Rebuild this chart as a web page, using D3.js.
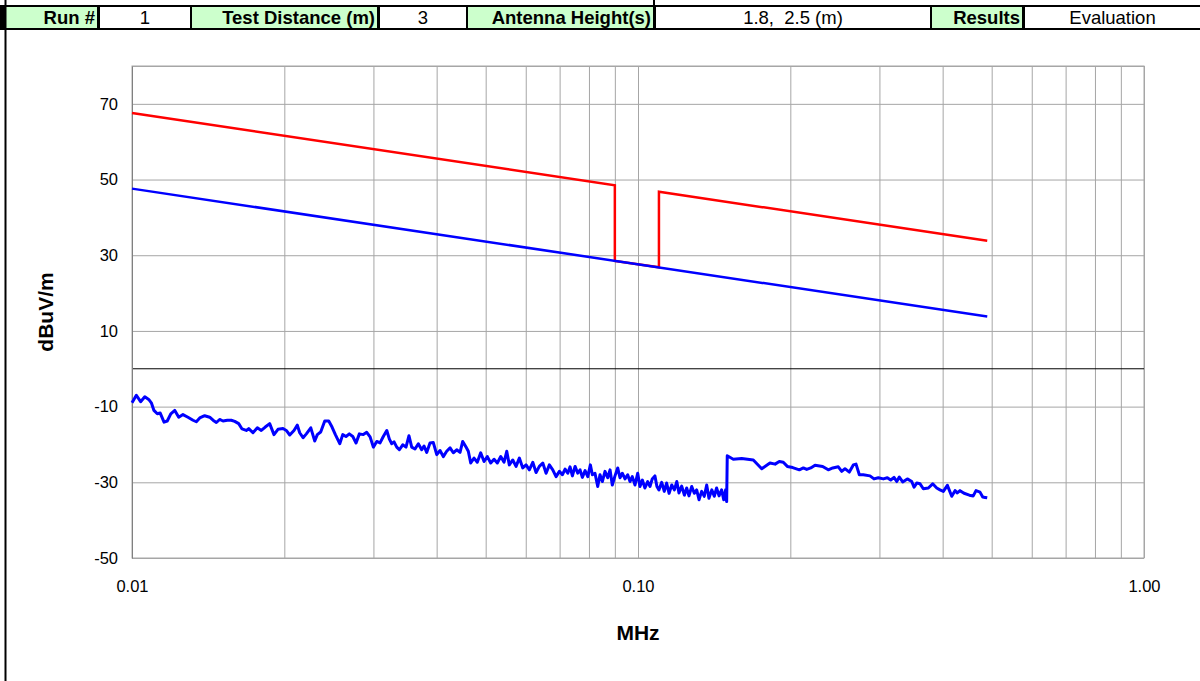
<!DOCTYPE html>
<html>
<head>
<meta charset="utf-8">
<script src="https://cdn.jsdelivr.net/npm/d3@7"></script>
<style>
  html, body { margin: 0; padding: 0; background: #fff; }
  svg { display: block; font-family: Arial, "Liberation Sans", sans-serif; }
  text { white-space: pre; }
</style>
</head>
<body>
<svg id="chart" width="1200" height="681"></svg>
<script>
// Header row of the test sheet
const headerLabels = ["Run #", "Test Distance (m)", "Antenna Height(s)", "Results"];
const headerValues = ["1", "3", "1.8,  2.5 (m)", "Evaluation"];
const headerLabelEdges = [6, 192, 468, 932];
const headerValueEdges = [100, 380, 656, 1025];

// Axis ticks
const xTickValues = [0.01, 0.1, 1];
const xTickLabels = ["0.01", "0.10", "1.00"];
const xGridValues = [0.01, 0.02, 0.03, 0.04, 0.05, 0.06, 0.07, 0.08, 0.09,
                     0.1, 0.2, 0.3, 0.4, 0.5, 0.6, 0.7, 0.8, 0.9, 1];
const yTickValues = [-50, -30, -10, 10, 30, 50, 70];

// Limit lines (dBuV/m)
const avgLimitFreq = [0.01, 0.49];
const avgLimitLevel = [47.6, 13.8];
const peakLimitFreq = [0.01, 0.09, 0.09, 0.11, 0.11, 0.49];
const peakLimitLevel = [67.6, 48.5, 28.5, 26.8, 46.8, 33.8];

// Measured emission scan (MHz, dBuV/m)
const scanFreq = [
  0.0100, 0.01020, 0.01040, 0.01060, 0.01079, 0.01092, 0.01105, 0.01122, 0.01137, 0.01157,
  0.01174, 0.01193, 0.01215, 0.01237, 0.01261, 0.01290, 0.01320, 0.01340, 0.01361, 0.01392,
  0.01424, 0.01446, 0.01468, 0.01490, 0.01513, 0.01543, 0.01571, 0.01596, 0.01625, 0.01650,
  0.01682, 0.01701, 0.01734, 0.01769, 0.01801, 0.01834, 0.01871, 0.01908, 0.01943, 0.01988,
  0.02018, 0.02050, 0.02090, 0.02122, 0.02145, 0.02178, 0.02211, 0.02256, 0.02297, 0.02324,
  0.02360, 0.02404, 0.02448, 0.02485, 0.02523, 0.02574, 0.02609, 0.02648, 0.02688, 0.02731,
  0.02772, 0.02814, 0.02865, 0.02910, 0.02955, 0.02999, 0.03046, 0.03092, 0.03138, 0.03188,
  0.03226, 0.03261, 0.03295, 0.03336, 0.03376, 0.03428, 0.03479, 0.03527, 0.03571, 0.03625,
  0.03680, 0.03737, 0.03777, 0.03823, 0.03881, 0.03940, 0.04002, 0.04062, 0.04123, 0.04187,
  0.04252, 0.04315, 0.04382, 0.04449, 0.04504, 0.04572, 0.04620, 0.04671, 0.04742, 0.04813,
  0.04888, 0.04963, 0.05038, 0.05116, 0.05194, 0.05272, 0.05355, 0.05436, 0.05503, 0.05568,
  0.05656, 0.05741, 0.05828, 0.05919, 0.06009, 0.06100, 0.06195, 0.06289, 0.06383, 0.06484,
  0.06582, 0.06681, 0.06785, 0.06888, 0.06993, 0.07089, 0.07176, 0.07265, 0.07341, 0.07419,
  0.07510, 0.07602, 0.07683, 0.07763, 0.07860, 0.07957, 0.08051, 0.08125, 0.08222, 0.08325,
  0.08412, 0.08502, 0.08606, 0.08712, 0.08805, 0.08896, 0.09006, 0.09118, 0.09213, 0.09311,
  0.09425, 0.09541, 0.09643, 0.09743, 0.09865, 0.09986, 0.1009, 0.1020, 0.1032, 0.1045,
  0.1056, 0.1067, 0.1080, 0.1090, 0.1100, 0.1114, 0.1127, 0.1139, 0.1152, 0.1166,
  0.1180, 0.1193, 0.1205, 0.1220, 0.1235, 0.1248, 0.1261, 0.1277, 0.1292, 0.1306,
  0.1320, 0.1336, 0.1352, 0.1367, 0.1381, 0.1399, 0.1415, 0.1430, 0.1446, 0.1463,
  0.1477, 0.1490, 0.1497, 0.1501, 0.1543, 0.1603, 0.1690, 0.1756, 0.1823, 0.1866,
  0.1902, 0.1937, 0.1973, 0.2022, 0.2084, 0.2122, 0.2155, 0.2195, 0.2238, 0.2317,
  0.2377, 0.2426, 0.2488, 0.2527, 0.2565, 0.2616, 0.2664, 0.2697, 0.2738, 0.2788,
  0.2874, 0.2927, 0.2985, 0.3054, 0.3110, 0.3158, 0.3206, 0.3246, 0.3284, 0.3335,
  0.3406, 0.3475, 0.3512, 0.3555, 0.3609, 0.3663, 0.3748, 0.3823, 0.3894, 0.3952,
  0.4013, 0.4087, 0.4169, 0.4232, 0.4276, 0.4329, 0.4409, 0.4517, 0.4598, 0.4656,
  0.4741, 0.4800, 0.4850, 0.4900
];
const scanLevel = [
  -9.0, -7.0, -8.7, -7.4, -8.1, -9.0, -11.0, -11.9, -11.7, -14.1,
  -13.8, -11.9, -11.0, -12.8, -12.1, -12.8, -13.6, -14.0, -13.0, -12.4,
  -12.8, -13.6, -14.2, -13.4, -13.8, -13.6, -13.6, -13.9, -14.5, -15.9,
  -16.3, -15.8, -16.9, -15.6, -16.3, -15.4, -14.5, -17.4, -16.0, -15.8,
  -16.3, -17.5, -16.3, -14.9, -16.9, -18.2, -17.2, -15.6, -19.1, -17.4,
  -16.7, -13.8, -13.8, -15.4, -17.4, -19.8, -17.4, -17.9, -17.2, -17.9,
  -19.6, -17.2, -17.4, -16.8, -18.0, -20.7, -19.2, -19.6, -17.9, -16.3,
  -18.6, -19.8, -19.3, -20.7, -21.4, -20.1, -20.7, -17.7, -20.7, -21.2,
  -19.8, -21.4, -20.4, -22.1, -19.6, -19.5, -22.7, -21.6, -23.2, -21.8,
  -20.9, -22.2, -21.4, -22.1, -19.2, -20.7, -21.8, -24.9, -23.6, -24.7,
  -22.2, -24.5, -23.2, -24.9, -23.9, -24.9, -23.2, -24.7, -21.8, -25.4,
  -24.1, -25.8, -23.6, -26.2, -25.4, -26.7, -24.7, -27.4, -25.8, -24.9,
  -27.6, -25.4, -26.7, -28.5, -27.1, -28.0, -26.5, -27.6, -25.9, -28.3,
  -25.8, -27.6, -26.7, -28.7, -26.9, -28.5, -25.4, -28.0, -27.6, -31.1,
  -28.0, -29.8, -27.1, -28.8, -26.7, -30.7, -28.3, -26.2, -28.8, -27.6,
  -29.1, -28.0, -29.8, -28.5, -30.7, -27.6, -31.1, -29.4, -31.5, -29.8,
  -31.1, -29.1, -28.3, -31.1, -32.0, -30.0, -32.4, -30.2, -32.9, -30.7,
  -32.0, -29.8, -32.8, -31.0, -33.4, -31.5, -33.6, -31.1, -32.9, -32.0,
  -34.6, -32.4, -33.7, -30.7, -34.2, -32.0, -33.7, -31.5, -33.6, -32.0,
  -34.6, -32.0, -35.1, -23.0, -23.9, -23.7, -24.1, -26.4, -24.9, -25.2,
  -24.5, -24.7, -25.8, -26.1, -26.7, -26.2, -26.6, -26.2, -25.5, -25.8,
  -26.7, -26.2, -25.9, -27.1, -26.4, -27.3, -25.4, -25.2, -28.0, -28.0,
  -28.3, -29.1, -28.8, -29.1, -28.8, -29.4, -28.7, -29.8, -28.6, -29.9,
  -29.1, -29.8, -31.3, -30.2, -30.4, -31.7, -31.5, -30.4, -31.5, -32.0,
  -32.4, -30.8, -33.7, -32.2, -32.8, -32.2, -32.9, -33.4, -33.6, -32.2,
  -32.6, -33.9, -34.0, -34.1
];

(function drawChart() {
  const svg = d3.select("#chart");
  const W = 1200, H = 681;
  const FONT = "Arial, 'Liberation Sans', sans-serif";

  // ---- Header table ----
  const header = svg.append("g");
  header.append("rect").attr("x", 0).attr("y", 5).attr("width", W).attr("height", 25).attr("fill", "#000");
  headerLabels.forEach((lab, i) => {
    const x0 = headerLabelEdges[i], x1 = headerValueEdges[i] - 3;
    header.append("rect").attr("x", x0).attr("y", 7).attr("width", x1 - x0).attr("height", 21).attr("fill", "#ccffcc");
    header.append("text").attr("x", x1 - 2).attr("y", 24).attr("text-anchor", "end")
      .attr("font-size", 18.5).attr("font-weight", "bold").text(lab);
    const v0 = headerValueEdges[i];
    const v1 = i + 1 < headerLabelEdges.length ? headerLabelEdges[i + 1] - 2 : W;
    header.append("rect").attr("x", v0).attr("y", 7).attr("width", v1 - v0).attr("height", 21).attr("fill", "#fff");
    header.append("text").attr("x", (v0 + v1) / 2).attr("y", 24).attr("text-anchor", "middle")
      .attr("font-size", 18.5).text(headerValues[i]);
  });
  // left edge of the sheet frame and cell divider above the header
  svg.append("line").attr("x1", 5.5).attr("x2", 5.5).attr("y1", 0).attr("y2", H).attr("stroke", "#000").attr("stroke-width", 2);
  svg.append("line").attr("x1", 654).attr("x2", 654).attr("y1", 0).attr("y2", 6).attr("stroke", "#000").attr("stroke-width", 2);

  // ---- Chart ----
  const pL = 132, pR = 1144, pT = 66, pB = 558;
  const x = d3.scaleLog().domain([0.01, 1]).range([pL, pR]);
  const y = d3.scaleLinear().domain([-50, 80]).range([pB, pT]);

  const grid = svg.append("g");
  // vertical gridlines
  grid.append("g").attr("transform", `translate(0,${pB})`)
    .call(d3.axisBottom(x).tickValues(xGridValues).tickSize(-(pB - pT)).tickFormat(""))
    .call(g => g.select(".domain").remove())
    .call(g => g.selectAll("line").attr("stroke", "#a6a6a6").attr("stroke-width", 1));
  // horizontal gridlines
  grid.append("g").attr("transform", `translate(${pL},0)`)
    .call(d3.axisLeft(y).tickValues(yTickValues.concat([80])).tickSize(-(pR - pL)).tickFormat(""))
    .call(g => g.select(".domain").remove())
    .call(g => g.selectAll("line").attr("stroke", "#a6a6a6").attr("stroke-width", 1));

  // plot border
  svg.append("rect").attr("x", pL).attr("y", pT).attr("width", pR - pL).attr("height", pB - pT)
    .attr("fill", "none").attr("stroke", "#a6a6a6");

  // zero line (category axis crossing)
  svg.append("line").attr("x1", pL).attr("x2", pR).attr("y1", y(0)).attr("y2", y(0))
    .attr("stroke", "#000").attr("stroke-width", 1);

  // value axis
  const yAxis = svg.append("g").attr("transform", `translate(${pL},0)`)
    .call(d3.axisLeft(y).tickValues(yTickValues).tickSize(0).tickPadding(14).tickFormat(d => String(d)));
  yAxis.select(".domain").attr("stroke", "#808080");
  yAxis.selectAll("text").attr("font-size", 16.5).attr("font-family", FONT).attr("fill", "#000");

  // frequency axis labels
  const xAxis = svg.append("g").attr("transform", `translate(0,${pB})`)
    .call(d3.axisBottom(x).tickValues(xTickValues).tickSize(0).tickPadding(22).tickFormat((d, i) => xTickLabels[i]));
  xAxis.select(".domain").remove();
  xAxis.selectAll("text").attr("font-size", 16.5).attr("font-family", FONT).attr("fill", "#000");

  // axis titles
  svg.append("text").attr("x", (x(0.01) + x(1)) / 2).attr("y", 640).attr("text-anchor", "middle")
    .attr("font-size", 21).attr("font-weight", "bold").text("MHz");
  svg.append("text").attr("transform", `translate(53,${(pT + pB) / 2}) rotate(-90)`).attr("text-anchor", "middle")
    .attr("font-size", 21).attr("font-weight", "bold").text("dBuV/m");

  // series
  const line = d3.line().x(d => x(d[0])).y(d => y(d[1]));
  const zip = (a, b) => a.map((v, i) => [v, b[i]]);

  svg.append("path").datum(zip(peakLimitFreq, peakLimitLevel)).attr("d", line)
    .attr("fill", "none").attr("stroke", "#ff0000").attr("stroke-width", 2.5);
  svg.append("path").datum(zip(avgLimitFreq, avgLimitLevel)).attr("d", line)
    .attr("fill", "none").attr("stroke", "#0000ff").attr("stroke-width", 2.5);
  svg.append("path").datum(zip(scanFreq, scanLevel)).attr("d", line)
    .attr("fill", "none").attr("stroke", "#0000ff").attr("stroke-width", 3).attr("stroke-linejoin", "round");
})();
</script>
</body>
</html>
